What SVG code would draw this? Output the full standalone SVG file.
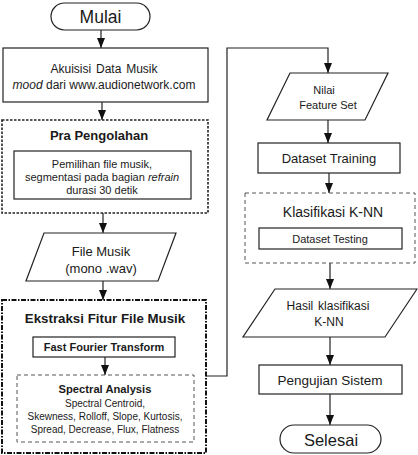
<svg xmlns="http://www.w3.org/2000/svg" width="418" height="455" viewBox="0 0 418 455">
<style>
  text { font-family: "Liberation Sans", Arial, sans-serif; fill: #1a1a1a; text-anchor: middle; }
  .b { font-weight: bold; }
  .box { fill: #fff; stroke: #222; stroke-width: 1.2; }
  .dash1 { fill: #fff; stroke: #222; stroke-width: 1.6; stroke-dasharray: 2.5 1.5; }
  .dash2 { fill: none; stroke: #111; stroke-width: 2; stroke-dasharray: 5 1.5 1.5 1.5; }
  .dash3 { fill: none; stroke: #555; stroke-width: 1; stroke-dasharray: 4 3; }
  .line { fill: none; stroke: #222; stroke-width: 1.2; }
</style>
<defs>
  <marker id="ah" viewBox="0 0 10 10" refX="10" refY="5" markerWidth="10" markerHeight="8" orient="auto" markerUnits="userSpaceOnUse" preserveAspectRatio="none">
    <path d="M0,0 L10,5 L0,10 z" fill="#111"/>
  </marker>
</defs>
<rect width="418" height="455" fill="#fff"/>

<g id="connectors">
  <line class="line" x1="101" y1="30" x2="101" y2="48" marker-end="url(#ah)"/>
  <line class="line" x1="102" y1="102" x2="102" y2="120" marker-end="url(#ah)"/>
  <line class="line" x1="103" y1="213" x2="103" y2="233" marker-end="url(#ah)"/>
  <line class="line" x1="103" y1="281" x2="103" y2="300" marker-end="url(#ah)"/>
  <line class="line" x1="105" y1="357" x2="105" y2="375" marker-end="url(#ah)"/>
  <polyline class="line" points="206,376 227,376 227,48 328,48 328,73" marker-end="url(#ah)"/>
  <line class="line" x1="328" y1="120" x2="328" y2="143" marker-end="url(#ah)"/>
  <line class="line" x1="329" y1="173" x2="329" y2="193" marker-end="url(#ah)"/>
  <line class="line" x1="330" y1="263" x2="330" y2="289" marker-end="url(#ah)"/>
  <line class="line" x1="330" y1="337" x2="330" y2="365" marker-end="url(#ah)"/>
  <line class="line" x1="330" y1="394" x2="330" y2="425" marker-end="url(#ah)"/>
</g>

<g id="mulai">
  <rect class="box" x="51" y="3" width="99" height="27" rx="13.5"/>
  <text x="100.5" y="22.5" font-size="17.5">Mulai</text>
</g>

<g id="akuisisi">
  <rect class="box" x="3" y="48" width="205" height="54"/>
  <text x="104" y="73" font-size="12" word-spacing="1.5">Akuisisi Data Musik</text>
  <text x="104" y="89" font-size="12"><tspan font-style="italic">mood</tspan> dari www.audionetwork.com</text>
</g>

<g id="pra-pengolahan">
  <rect class="dash1" x="2" y="120" width="206" height="93"/>
  <text class="b" x="99" y="140" font-size="13">Pra Pengolahan</text>
  <rect class="box" x="14" y="151" width="177" height="48"/>
  <text x="102" y="168" font-size="11">Pemilihan file musik,</text>
  <text x="102" y="181" font-size="11">segmentasi pada bagian <tspan font-style="italic">refrain</tspan></text>
  <text x="102" y="194" font-size="11">durasi 30 detik</text>
</g>

<g id="file-musik">
  <polygon class="box" points="44,233 176,233 158,281 26,281"/>
  <text x="101" y="256" font-size="13">File Musik</text>
  <text x="101" y="273" font-size="13">(mono .wav)</text>
</g>

<g id="ekstraksi">
  <rect class="dash2" x="2" y="300" width="204" height="153"/>
  <text class="b" x="105" y="323" font-size="13.3">Ekstraksi Fitur File Musik</text>
</g>

<g id="fft">
  <rect class="box" x="33" y="337" width="142" height="20"/>
  <text class="b" x="104" y="351" font-size="11">Fast Fourier Transform</text>
</g>

<g id="spectral">
  <rect class="dash3" x="17" y="375" width="177" height="67"/>
  <text class="b" x="105" y="392.5" font-size="11.2">Spectral Analysis</text>
  <text x="105" y="407" font-size="10">Spectral Centroid,</text>
  <text x="105" y="420" font-size="10">Skewness, Rolloff, Slope, Kurtosis,</text>
  <text x="105" y="433" font-size="10">Spread, Decrease, Flux, Flatness</text>
</g>

<g id="nilai">
  <polygon class="box" points="290,73 388,73 365,120 267,120"/>
  <text x="324" y="94" font-size="11">Nilai</text>
  <text x="328" y="108.5" font-size="11">Feature Set</text>
</g>

<g id="dataset-training">
  <rect class="box" x="258" y="143" width="142" height="30"/>
  <text x="329" y="163" font-size="13">Dataset Training</text>
</g>

<g id="klasifikasi">
  <rect class="dash3" x="245" y="193" width="170" height="70"/>
  <text x="333" y="217" font-size="14">Klasifikasi K-NN</text>
</g>

<g id="dataset-testing">
  <rect class="box" x="259" y="228" width="143" height="21"/>
  <text x="330" y="242.5" font-size="11">Dataset Testing</text>
</g>

<g id="hasil">
  <polygon class="box" points="275,289 417,289 385,337 243,337"/>
  <text x="328" y="310" font-size="12" word-spacing="1.5">Hasil klasifikasi</text>
  <text x="329" y="326" font-size="12">K-NN</text>
</g>

<g id="pengujian">
  <rect class="box" x="259" y="365" width="143" height="29"/>
  <text x="330" y="385" font-size="13.5">Pengujian Sistem</text>
</g>

<g id="selesai">
  <rect class="box" x="280" y="425" width="101" height="28" rx="14"/>
  <text x="331" y="445.5" font-size="16.5">Selesai</text>
</g>
</svg>
